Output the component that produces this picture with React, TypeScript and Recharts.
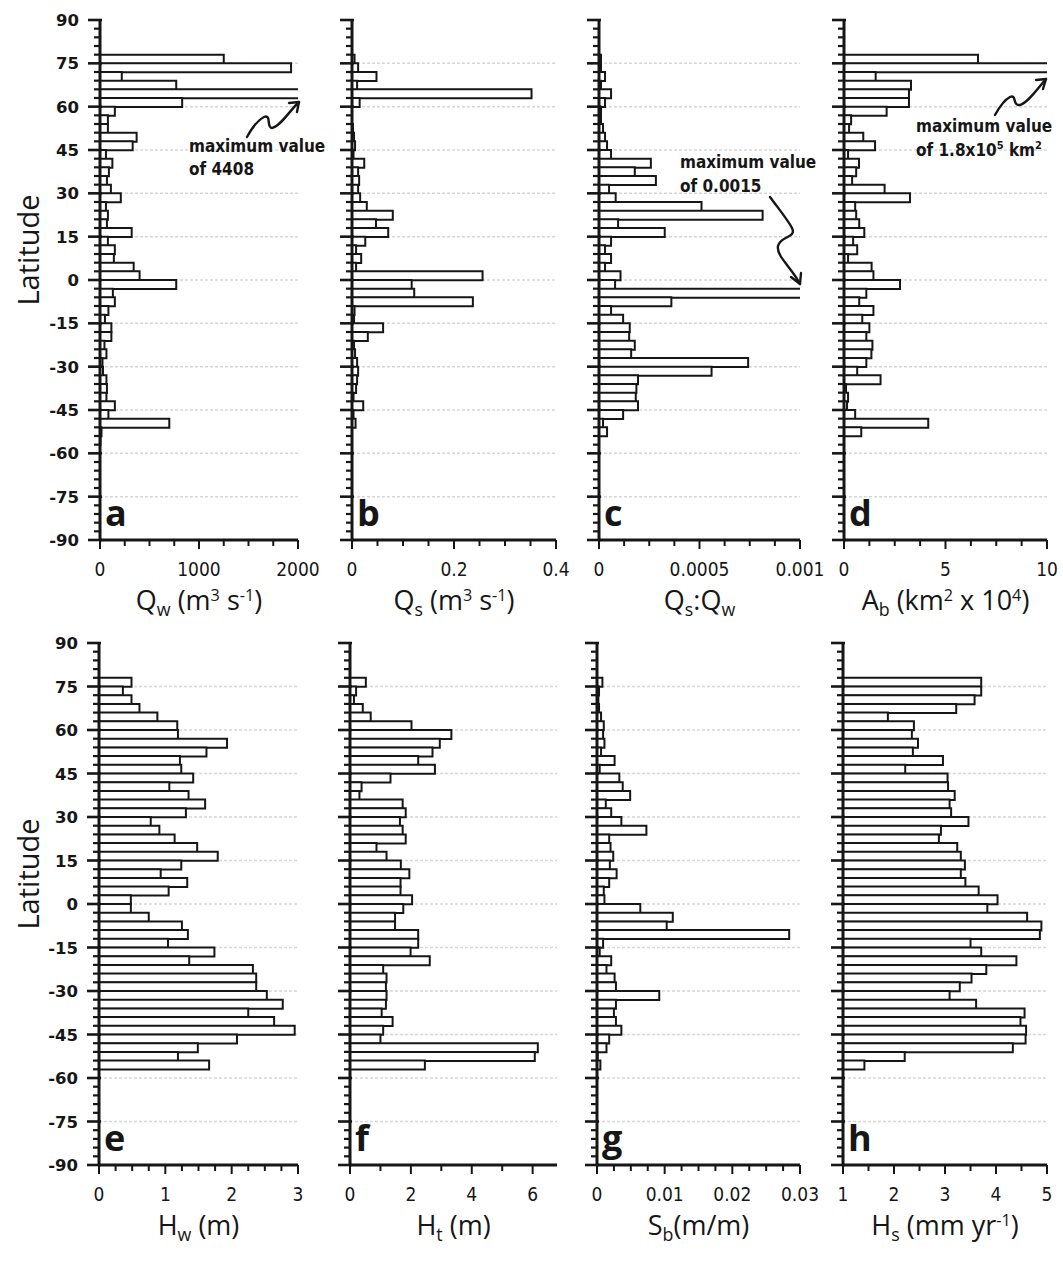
import React from 'react'
import { BarChart, Bar, XAxis, YAxis, CartesianGrid } from 'recharts'

// 3-degree latitude bins (bin centres), north to south
const latitudes = [
  76.5, 73.5, 70.5, 67.5, 64.5, 61.5, 58.5, 55.5, 52.5, 49.5, 46.5, 43.5, 40.5, 37.5, 34.5,
  31.5, 28.5, 25.5, 22.5, 19.5, 16.5, 13.5, 10.5, 7.5, 4.5, 1.5, -1.5, -4.5, -7.5, -10.5,
  -13.5, -16.5, -19.5, -22.5, -25.5, -28.5, -31.5, -34.5, -37.5, -40.5, -43.5, -46.5, -49.5, -52.5, -55.5
]

// a: Qw (m3 s-1)
const qwValues = [
  1250, 1930, 220, 770, 4408, 830, 150, 80, 80, 370, 330, 60, 125, 90, 70,
  110, 210, 60, 80, 70, 320, 80, 150, 140, 340, 400, 770, 130, 150, 85,
  50, 115, 115, 45, 65, 25, 30, 65, 70, 65, 150, 85, 700, 15, 5
]
// b: Qs (m3 s-1)
const qsValues = [
  0.005, 0.012, 0.048, 0.01, 0.352, 0.015, 0, 0, 0.002, 0.004, 0.006, 0.003, 0.024, 0.012, 0.014,
  0.012, 0.016, 0.029, 0.08, 0.047, 0.071, 0.026, 0.008, 0.018, 0.008, 0.256, 0.117, 0.122, 0.237, 0.005,
  0.004, 0.061, 0.031, 0.004, 0.006, 0.01, 0.012, 0.01, 0.008, 0.003, 0.022, 0.003, 0.007, 0, 0
]
// c: Qs:Qw
const qsQwValues = [
  0.00001, 0.00001, 0.00003, 0.00001, 0.00006, 0.00003, 0.00001, 0.00001, 0.00002, 0.00003, 0.00004, 0.00006, 0.000258, 0.000178, 0.000283,
  0.00005, 0.000083, 0.00051, 0.000814, 0.000095, 0.000327, 0.00006, 0.00003, 0.00006, 0.00003, 0.000107, 0.00008, 0.0015, 0.00036, 0.00006,
  0.00012, 0.000153, 0.00015, 0.000178, 0.00016, 0.000742, 0.00056, 0.000194, 0.000186, 0.000183, 0.000194, 0.00012, 0.00002, 0.00004, 0
]
// d: Ab (km2 x 10^4)
const basinAreaValues = [
  6.6, 18, 1.56, 3.3, 3.2, 3.2, 2.1, 0.35, 0.25, 0.95, 1.53, 0.2, 0.74, 0.6, 0.4,
  2.0, 3.25, 0.55, 0.6, 0.75, 1.0, 0.45, 0.65, 0.2, 1.36, 1.45, 2.76, 1.1, 0.75, 1.45,
  0.9, 1.25, 1.1, 1.4, 1.35, 1.1, 0.65, 1.8, 0.1, 0.2, 0.15, 0.55, 4.15, 0.85, 0
]
// e: Hw (m)
const hwValues = [
  0.49, 0.36, 0.49, 0.61, 0.88, 1.18, 1.19, 1.93, 1.62, 1.22, 1.24, 1.42, 1.06, 1.35, 1.6,
  1.31, 0.78, 0.91, 1.14, 1.48, 1.79, 1.24, 0.93, 1.33, 1.05, 0.48, 0.48, 0.75, 1.25, 1.34,
  1.04, 1.74, 1.36, 2.32, 2.37, 2.37, 2.53, 2.77, 2.25, 2.64, 2.95, 2.08, 1.49, 1.19, 1.66
]
// f: Ht (m)
const htValues = [
  0.52, 0.2, 0.13, 0.42, 0.68, 2.02, 3.33, 2.95, 2.71, 2.24, 2.79, 1.33, 0.38, 0.31, 1.73,
  1.83, 1.64, 1.73, 1.83, 0.87, 1.2, 1.67, 1.95, 1.66, 1.66, 2.04, 1.75, 1.48, 1.48, 2.24,
  2.24, 1.99, 2.62, 1.09, 1.2, 1.18, 1.2, 1.18, 1.04, 1.4, 1.09, 1.0, 6.17, 6.07, 2.46
]
// g: Sb (m/m)
const sbValues = [
  0.0008, 0.0003, 0.0002, 0.0003, 0.0006, 0.001, 0.0009, 0.0011, 0.0006, 0.0026, 0.0004, 0.0033, 0.0038, 0.0049, 0.0013,
  0.0021, 0.0036, 0.0073, 0.0018, 0.002, 0.0024, 0.0019, 0.0029, 0.0018, 0.001, 0.0011, 0.0064, 0.0112, 0.0103, 0.0284,
  0.0009, 0.0004, 0.0021, 0.0014, 0.0026, 0.0028, 0.0092, 0.0028, 0.0025, 0.0028, 0.0036, 0.0018, 0.0014, 0.0001, 0.0005
]
// h: Hs (mm yr-1)
const hsValues = [
  3.71, 3.71, 3.58, 3.22, 1.88, 2.39, 2.35, 2.47, 2.37, 2.96, 2.22, 3.05, 3.06, 3.19, 3.09,
  3.12, 3.46, 2.92, 2.88, 3.24, 3.31, 3.39, 3.31, 3.4, 3.66, 4.03, 3.83, 4.61, 4.89, 4.86,
  3.5, 3.71, 4.4, 3.81, 3.52, 3.29, 3.09, 3.61, 4.56, 4.48, 4.59, 4.58, 4.33, 2.21, 1.42
]

const latTickLabels = [90, 75, 60, 45, 30, 15, 0, -15, -30, -45, -60, -75, -90]
const qwTicks = [0, 1000, 2000]
const qsTicks = [0, 0.2, 0.4]
const ratioTicks = [0, 0.0005, 0.001]
const areaTicks = [0, 5, 10]
const hwTicks = [0, 1, 2, 3]
const htTicks = [0, 2, 4, 6]
const sbTicks = [0, 0.01, 0.02, 0.03]
const hsTicks = [1, 2, 3, 4, 5]

const INK = '#161616'
const NARROW = "'Liberation Sans Narrow', 'DejaVu Sans Condensed', sans-serif"
const HUMAN = "'Open Sans', 'Noto Sans', sans-serif"

const ML = 90
const MR = 30
const MT = 8
const MB = 60
const Y_AXIS_W = 30
const X_AXIS_H = 30

const latTicks: number[] = []
for (let l = -90; l <= 90; l += 3) latTicks.push(l)
const gridLats = latTickLabels.filter((l) => Math.abs(l) < 90)

function stepTicks(min: number, max: number, step: number) {
  const out: number[] = []
  const n = Math.round((max - min) / step)
  for (let i = 0; i <= n; i++) out.push(Math.round((min + i * step) * 1e9) / 1e9)
  return out
}

function latTick(showLabel: boolean) {
  return (p: any) => {
    const v = Number(p.payload.value)
    const major = v % 15 === 0
    return (
      <g>
        <line x1={p.x - (major ? 12 : 6)} x2={p.x + (major ? 2 : 1)} y1={p.y} y2={p.y} stroke={INK} strokeWidth={major ? 2.6 : 2.2} />
        {showLabel && major ? (
          <text x={p.x - 21} y={p.y + 6} textAnchor="end" fontFamily="'DejaVu Sans', sans-serif" fontWeight="bold" fontSize={16.5} fill={INK}>
            {v}
          </text>
        ) : null}
      </g>
    )
  }
}

function valueTick(labels: number[]) {
  return (p: any) => {
    const v = Number(p.payload.value)
    const major = labels.some((l) => Math.abs(l - v) < 1e-9)
    return (
      <g>
        <line x1={p.x} x2={p.x} y1={p.y} y2={p.y + (major ? 9 : 6)} stroke={INK} strokeWidth={2} />
        {major ? (
          <text x={p.x} y={p.y + 36} textAnchor="middle" fontFamily={NARROW} fontSize={19} fill={INK}>
            {String(v)}
          </text>
        ) : null}
      </g>
    )
  }
}

// faint horizontal guides every 15 degrees, drawn behind the bars
function gridRows(plotH: number) {
  return (g: any) => {
    const off = g && g.offset
    const top = off && typeof off.top === 'number' ? off.top : MT
    const h = off && typeof off.height === 'number' && off.height > 0 ? off.height : plotH
    return gridLats.map((l) => top + ((90 - l) / 180) * h)
  }
}

type PanelSpec = {
  letter: string
  values: number[]
  domain: [number, number]
  labels: number[]
  step: number
  tickMax: number
  x0: number
  x1: number
  top: number
  bottom: number
  latLabels: boolean
  title: React.ReactNode
}

const TOP = [20, 540]
const BOT = [643, 1165]

const Sub = ({ children }: { children: React.ReactNode }) => (
  <span style={{ fontSize: '0.66em', position: 'relative', top: '0.35em' }}>{children}</span>
)
const Sup = ({ children }: { children: React.ReactNode }) => (
  <span style={{ fontSize: '0.6em', position: 'relative', top: '-0.55em' }}>{children}</span>
)

const panels: PanelSpec[] = [
  { letter: 'a', values: qwValues, domain: [0, 2000], labels: qwTicks, step: 250, tickMax: 2000, x0: 100, x1: 298, top: TOP[0], bottom: TOP[1], latLabels: true,
    title: <>Q<Sub>w</Sub> (m<Sup>3</Sup> s<Sup>-1</Sup>)</> },
  { letter: 'b', values: qsValues, domain: [0, 0.4], labels: qsTicks, step: 0.05, tickMax: 0.4, x0: 352, x1: 556, top: TOP[0], bottom: TOP[1], latLabels: false,
    title: <>Q<Sub>s</Sub> (m<Sup>3</Sup> s<Sup>-1</Sup>)</> },
  { letter: 'c', values: qsQwValues, domain: [0, 0.001], labels: ratioTicks, step: 0.000125, tickMax: 0.001, x0: 599, x1: 800, top: TOP[0], bottom: TOP[1], latLabels: false,
    title: <>Q<Sub>s</Sub>:Q<Sub>w</Sub></> },
  { letter: 'd', values: basinAreaValues, domain: [0, 10], labels: areaTicks, step: 1.25, tickMax: 10, x0: 844, x1: 1047, top: TOP[0], bottom: TOP[1], latLabels: false,
    title: <>A<Sub>b</Sub> (km<Sup>2</Sup> x 10<Sup>4</Sup>)</> },
  { letter: 'e', values: hwValues, domain: [0, 3], labels: hwTicks, step: 0.25, tickMax: 3, x0: 99, x1: 298, top: BOT[0], bottom: BOT[1], latLabels: true,
    title: <>H<Sub>w</Sub> (m)</> },
  { letter: 'f', values: htValues, domain: [0, 6.8], labels: htTicks, step: 1, tickMax: 6, x0: 350, x1: 557, top: BOT[0], bottom: BOT[1], latLabels: false,
    title: <>H<Sub>t</Sub> (m)</> },
  { letter: 'g', values: sbValues, domain: [0, 0.03], labels: sbTicks, step: 0.0025, tickMax: 0.03, x0: 597, x1: 800, top: BOT[0], bottom: BOT[1], latLabels: false,
    title: <>S<Sub>b</Sub>(m/m)</> },
  { letter: 'h', values: hsValues, domain: [1, 5], labels: hsTicks, step: 0.5, tickMax: 5, x0: 843, x1: 1047, top: BOT[0], bottom: BOT[1], latLabels: false,
    title: <>H<Sub>s</Sub> (mm yr<Sup>-1</Sup>)</> }
]

function Panel({ spec }: { spec: PanelSpec }) {
  const W = spec.x1 - spec.x0
  const H = spec.bottom - spec.top
  const rows = latitudes.map((lat, i) => ({ lat, v: spec.values[i] }))
  const minor = stepTicks(spec.domain[0], spec.tickMax, spec.step)
  return (
    <div style={{ position: 'absolute', left: spec.x0 - ML, top: spec.top - MT }}>
      <BarChart
        width={ML + W + MR}
        height={MT + H + MB}
        data={rows}
        layout="vertical"
        margin={{ top: MT, right: MR, left: ML - Y_AXIS_W, bottom: MB - X_AXIS_H }}
        barCategoryGap={0}
        barGap={0}
      >
        <CartesianGrid
          vertical={false}
          horizontalCoordinatesGenerator={gridRows(H)}
          stroke="#d6d6d6"
          strokeWidth={1.5}
          strokeDasharray="3 2"
        />
        <XAxis
          type="number"
          domain={spec.domain}
          allowDataOverflow
          ticks={minor}
          interval={0}
          tickLine={false}
          tickSize={0}
          tickMargin={0}
          axisLine={{ stroke: INK, strokeWidth: 3 }}
          tick={valueTick(spec.labels)}
          height={X_AXIS_H}
        />
        <YAxis
          type="number"
          dataKey="lat"
          domain={[-90, 90]}
          reversed
          ticks={latTicks}
          interval={0}
          tickLine={false}
          tickSize={0}
          tickMargin={0}
          axisLine={{ stroke: INK, strokeWidth: 3 }}
          tick={latTick(spec.latLabels)}
          width={Y_AXIS_W}
        />
        <Bar dataKey="v" fill="#ffffff" stroke={INK} strokeWidth={2} isAnimationActive={false} />
      </BarChart>
    </div>
  )
}

export default function App() {
  return (
    <div style={{ position: 'absolute', left: 0, top: 0, width: 1063, height: 1266, overflow: 'hidden', background: '#fff' }}>
      {panels.map((p) => (
        <Panel key={p.letter} spec={p} />
      ))}

      {panels.map((p) => (
        <div
          key={'t' + p.letter}
          style={{
            position: 'absolute',
            left: (p.x0 + p.x1) / 2 - 150,
            width: 300,
            top: p.bottom + 41,
            textAlign: 'center',
            fontFamily: HUMAN,
            fontSize: 27,
            lineHeight: '38px',
            color: INK,
            whiteSpace: 'nowrap'
          }}
        >
          {p.title}
        </div>
      ))}

      {[TOP, BOT].map((r, i) => (
        <div
          key={'lat' + i}
          style={{
            position: 'absolute',
            left: 28 - 80,
            width: 160,
            top: (r[0] + r[1]) / 2 - 30 - 20,
            height: 40,
            lineHeight: '40px',
            textAlign: 'center',
            transform: 'rotate(-90deg)',
            fontFamily: HUMAN,
            fontSize: 29,
            color: INK
          }}
        >
          Latitude
        </div>
      ))}

      <svg width={1063} height={1266} style={{ position: 'absolute', left: 0, top: 0, pointerEvents: 'none' }}>
        {panels.map((p) => (
          <text key={'l' + p.letter} x={p.x0 + 5} y={p.bottom - 14} fontFamily={HUMAN} fontWeight="bold" fontSize={36} fill={INK}>
            {p.letter}
          </text>
        ))}
        <g fontFamily={NARROW} fontWeight="bold" fontSize={17} fill={INK}>
          <text x={189} y={152}>maximum value</text>
          <text x={189} y={175}>of 4408</text>
          <text x={680} y={168}>maximum value</text>
          <text x={680} y={192}>of 0.0015</text>
          <text x={916} y={132}>maximum value</text>
          <text x={916} y={156}>
            of 1.8x10<tspan dy={-7} fontSize={11}>5</tspan>
            <tspan dy={7}> km</tspan>
            <tspan dy={-7} fontSize={11}>2</tspan>
          </text>
        </g>
        <g fill="none" stroke={INK} strokeWidth={2.4} strokeLinecap="round" strokeLinejoin="round">
          <path d="M247,137 C252,128 258,120 264,117 C272,114 266,128 272,128 C280,127 290,110 299,102" />
          <path d="M289,103 L299,102 L297,112" />
          <path d="M770,197 C778,208 788,220 792,228 C797,238 780,236 778,246 C776,256 792,268 800,284" />
          <path d="M791,277 L800,284 L801,273" />
          <path d="M995,115 C1000,106 1006,99 1010,97 C1017,94 1012,106 1020,105 C1028,103 1038,88 1046,79" />
          <path d="M1036,80 L1046,79 L1043,89" />
        </g>
      </svg>
    </div>
  )
}
